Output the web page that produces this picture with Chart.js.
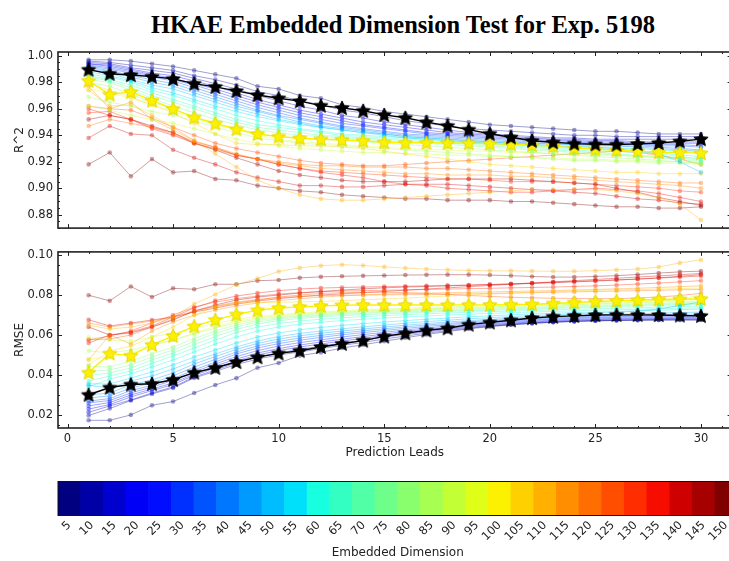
<!DOCTYPE html>
<html>
<head>
<meta charset="utf-8">
<script src="https://cdn.jsdelivr.net/npm/chart.js@4.4.0/dist/chart.umd.min.js"></script>
<style>
  html, body { margin: 0; padding: 0; background: #fff; }
  body { width: 729px; height: 561px; overflow: hidden; position: relative; }
  .box { position: absolute; left: 0; }
  #title {
    position: absolute; left: 0; top: 11px; width: 806px;
    text-align: center; font: bold 24.5px "Liberation Serif", serif; color: #000;
  }
</style>
</head>
<body>
<div id="title">HKAE Embedded Dimension Test for Exp. 5198</div>
<div class="box" style="top:0"><canvas id="r2Chart" width="740" height="240"></canvas></div>
<div class="box" style="top:240px"><canvas id="rmseChart" width="740" height="225"></canvas></div>
<div class="box" style="top:470px"><canvas id="cbarChart" width="740" height="91"></canvas></div>
<script>
// ---- data ----
const leads = [1, 2, 3, 4, 5, 6, 7, 8, 9, 10, 11, 12, 13, 14, 15, 16, 17, 18, 19, 20, 21, 22, 23, 24, 25, 26, 27, 28, 29, 30];
const dims = [5, 10, 15, 20, 25, 30, 35, 40, 45, 50, 55, 60, 65, 70, 75, 80, 85, 90, 95, 100, 105, 110, 115, 120, 125, 130, 135, 140, 145, 150];
const starDim = 100; // drawn with yellow stars

// R^2, one row per embedded dimension (same order as dims)
const r2Rows = [
  [0.997,0.997,0.996,0.994,0.992,0.989,0.986,0.983,0.977,0.975, 0.970,0.968,0.963,0.961,0.958,0.956,0.954,0.952,0.950,0.948, 0.947,0.946,0.945,0.944,0.943,0.943,0.942,0.941,0.941,0.941],
  [0.996,0.995,0.993,0.991,0.989,0.985,0.982,0.978,0.973,0.970, 0.966,0.963,0.959,0.957,0.954,0.951,0.949,0.947,0.945,0.944, 0.943,0.942,0.941,0.940,0.940,0.939,0.939,0.939,0.939,0.939],
  [0.995,0.994,0.991,0.989,0.987,0.983,0.979,0.975,0.970,0.966, 0.962,0.959,0.955,0.953,0.950,0.948,0.946,0.944,0.942,0.941, 0.940,0.939,0.938,0.938,0.937,0.937,0.937,0.937,0.937,0.937],
  [0.994,0.993,0.990,0.987,0.985,0.981,0.977,0.972,0.967,0.963, 0.959,0.956,0.953,0.950,0.948,0.946,0.944,0.942,0.941,0.940, 0.939,0.938,0.937,0.937,0.936,0.936,0.935,0.935,0.935,0.935],
  [0.994,0.992,0.989,0.986,0.983,0.979,0.975,0.970,0.965,0.961, 0.957,0.954,0.951,0.948,0.946,0.944,0.942,0.941,0.940,0.939, 0.938,0.937,0.936,0.936,0.935,0.935,0.934,0.934,0.934,0.934],
  [0.993,0.991,0.988,0.985,0.982,0.978,0.973,0.968,0.963,0.959, 0.955,0.952,0.949,0.947,0.945,0.943,0.941,0.940,0.939,0.938, 0.937,0.936,0.935,0.935,0.934,0.934,0.933,0.933,0.933,0.932],
  [0.992,0.990,0.987,0.984,0.981,0.976,0.971,0.966,0.961,0.957, 0.953,0.950,0.947,0.945,0.943,0.941,0.940,0.939,0.938,0.937, 0.936,0.935,0.935,0.934,0.934,0.933,0.933,0.932,0.932,0.931],
  [0.991,0.989,0.985,0.982,0.979,0.974,0.969,0.964,0.959,0.955, 0.952,0.949,0.946,0.944,0.942,0.940,0.939,0.938,0.937,0.936, 0.935,0.934,0.934,0.933,0.933,0.932,0.932,0.931,0.930,0.929],
  [0.990,0.988,0.984,0.980,0.977,0.972,0.967,0.962,0.958,0.954, 0.950,0.947,0.945,0.943,0.941,0.939,0.938,0.937,0.936,0.935, 0.934,0.934,0.933,0.933,0.932,0.932,0.931,0.930,0.929,0.928],
  [0.989,0.987,0.982,0.978,0.975,0.970,0.965,0.960,0.956,0.952, 0.949,0.946,0.944,0.942,0.940,0.938,0.937,0.936,0.935,0.934, 0.933,0.933,0.932,0.931,0.931,0.930,0.928,0.926,0.920,0.912],
  [0.988,0.985,0.981,0.976,0.972,0.967,0.962,0.958,0.954,0.951, 0.948,0.946,0.944,0.942,0.941,0.939,0.938,0.937,0.936,0.935, 0.934,0.933,0.932,0.932,0.931,0.930,0.930,0.929,0.928,0.927],
  [0.986,0.984,0.980,0.974,0.970,0.965,0.960,0.955,0.951,0.948, 0.945,0.943,0.941,0.940,0.939,0.938,0.937,0.936,0.935,0.934, 0.933,0.932,0.931,0.930,0.930,0.929,0.928,0.927,0.925,0.924],
  [0.985,0.982,0.978,0.972,0.967,0.962,0.957,0.952,0.948,0.946, 0.944,0.942,0.940,0.939,0.938,0.937,0.936,0.935,0.934,0.933, 0.932,0.931,0.930,0.929,0.928,0.928,0.927,0.926,0.924,0.922],
  [0.984,0.981,0.976,0.970,0.965,0.960,0.955,0.950,0.946,0.944, 0.942,0.940,0.939,0.938,0.937,0.936,0.935,0.934,0.933,0.932, 0.931,0.930,0.929,0.928,0.927,0.926,0.925,0.924,0.923,0.921],
  [0.982,0.980,0.974,0.968,0.962,0.957,0.952,0.948,0.944,0.942, 0.940,0.939,0.938,0.937,0.936,0.935,0.934,0.933,0.932,0.931, 0.930,0.929,0.928,0.927,0.926,0.925,0.924,0.923,0.922,0.920],
  [0.980,0.977,0.971,0.965,0.960,0.954,0.949,0.945,0.941,0.939, 0.938,0.937,0.936,0.935,0.934,0.933,0.932,0.931,0.930,0.929, 0.928,0.927,0.926,0.925,0.924,0.923,0.922,0.921,0.920,0.919],
  [0.969,0.965,0.962,0.958,0.955,0.951,0.946,0.942,0.938,0.936, 0.934,0.933,0.932,0.931,0.930,0.929,0.928,0.927,0.926,0.925, 0.924,0.923,0.922,0.921,0.921,0.920,0.920,0.919,0.919,0.918],
  [0.962,0.959,0.955,0.952,0.949,0.945,0.941,0.937,0.934,0.932, 0.930,0.929,0.928,0.927,0.927,0.926,0.926,0.925,0.925,0.924, 0.924,0.923,0.923,0.922,0.922,0.921,0.921,0.920,0.920,0.919],
  [0.975,0.972,0.968,0.963,0.958,0.953,0.948,0.944,0.940,0.937, 0.935,0.934,0.933,0.932,0.931,0.930,0.929,0.929,0.928,0.928, 0.927,0.927,0.926,0.926,0.925,0.925,0.924,0.924,0.923,0.923],
  [0.9812,0.9708,0.9728,0.9663,0.9600,0.9535,0.9489,0.9446,0.9410,0.9390, 0.9378,0.9370,0.9366,0.9359,0.9347,0.9344,0.9344,0.9342,0.9340,0.9337, 0.9332,0.9325,0.9318,0.9303,0.9294,0.9287,0.9280,0.9272,0.9270,0.9265],
  [0.979,0.974,0.969,0.963,0.957,0.949,0.941,0.934,0.933,0.933, 0.932,0.932,0.931,0.930,0.928,0.926,0.924,0.922,0.920,0.918, 0.917,0.916,0.915,0.914,0.913,0.912,0.912,0.911,0.911,0.911],
  [0.974,0.962,0.963,0.955,0.946,0.936,0.926,0.916,0.906,0.900, 0.895,0.892,0.891,0.891,0.892,0.893,0.894,0.895,0.896,0.897, 0.898,0.899,0.899,0.899,0.899,0.898,0.896,0.893,0.888,0.876],
  [0.977,0.960,0.965,0.952,0.944,0.936,0.931,0.926,0.922,0.919, 0.917,0.915,0.914,0.913,0.912,0.911,0.911,0.910,0.910,0.910, 0.909,0.909,0.908,0.907,0.906,0.905,0.904,0.903,0.902,0.900],
  [0.947,0.952,0.949,0.946,0.941,0.934,0.929,0.925,0.922,0.920, 0.918,0.917,0.917,0.916,0.916,0.916,0.915,0.915,0.914,0.913, 0.912,0.911,0.910,0.909,0.908,0.907,0.906,0.905,0.904,0.904],
  [0.962,0.960,0.959,0.953,0.946,0.940,0.934,0.930,0.927,0.924, 0.921,0.919,0.918,0.917,0.917,0.918,0.919,0.920,0.921,0.922, 0.923,0.924,0.925,0.926,0.927,0.928,0.927,0.925,0.922,0.918],
  [0.957,0.958,0.952,0.946,0.942,0.935,0.931,0.925,0.922,0.918, 0.915,0.913,0.912,0.911,0.910,0.909,0.908,0.907,0.907,0.906, 0.905,0.905,0.905,0.904,0.903,0.902,0.901,0.900,0.898,0.897],
  [0.960,0.955,0.952,0.945,0.940,0.934,0.930,0.925,0.922,0.918, 0.915,0.912,0.910,0.908,0.905,0.903,0.902,0.900,0.899,0.898, 0.897,0.897,0.898,0.899,0.900,0.899,0.898,0.896,0.893,0.890],
  [0.938,0.947,0.941,0.940,0.929,0.923,0.918,0.912,0.908,0.905, 0.902,0.902,0.901,0.901,0.902,0.903,0.903,0.903,0.902,0.901, 0.900,0.899,0.898,0.897,0.896,0.894,0.892,0.891,0.889,0.888],
  [0.952,0.955,0.952,0.947,0.942,0.934,0.929,0.923,0.918,0.913, 0.910,0.908,0.906,0.905,0.905,0.905,0.906,0.907,0.907,0.907, 0.907,0.906,0.905,0.904,0.903,0.900,0.897,0.893,0.890,0.887],
  [0.918,0.927,0.909,0.922,0.912,0.913,0.907,0.906,0.902,0.900, 0.898,0.897,0.895,0.894,0.893,0.892,0.892,0.891,0.891,0.891, 0.890,0.890,0.889,0.888,0.887,0.886,0.886,0.885,0.885,0.886]
];

// RMSE, one row per embedded dimension (same order as dims)
const rmseRows = [
  [0.0173,0.0173,0.0200,0.0248,0.0267,0.0310,0.0350,0.0384,0.0436,0.0460, 0.0497,0.0513,0.0535,0.0551,0.0569,0.0586,0.0603,0.0617,0.0631,0.0642, 0.0651,0.0658,0.0664,0.0668,0.0671,0.0673,0.0674,0.0675,0.0675,0.0675],
  [0.0197,0.0232,0.0272,0.0305,0.0335,0.0385,0.0418,0.0452,0.0480,0.0500, 0.0515,0.0532,0.0548,0.0563,0.0580,0.0595,0.0609,0.0622,0.0634,0.0644, 0.0652,0.0659,0.0664,0.0668,0.0671,0.0673,0.0674,0.0675,0.0676,0.0676],
  [0.0213,0.0245,0.0275,0.0310,0.0340,0.0390,0.0425,0.0460,0.0490,0.0510, 0.0528,0.0544,0.0560,0.0574,0.0590,0.0603,0.0616,0.0628,0.0638,0.0647, 0.0655,0.0661,0.0666,0.0670,0.0673,0.0675,0.0677,0.0678,0.0679,0.0679],
  [0.0229,0.0252,0.0290,0.0322,0.0352,0.0398,0.0435,0.0470,0.0500,0.0522, 0.0540,0.0555,0.0570,0.0583,0.0597,0.0610,0.0622,0.0633,0.0643,0.0651, 0.0659,0.0665,0.0670,0.0674,0.0677,0.0679,0.0681,0.0682,0.0683,0.0683],
  [0.0245,0.0262,0.0300,0.0330,0.0360,0.0405,0.0445,0.0480,0.0510,0.0532, 0.0550,0.0565,0.0579,0.0592,0.0605,0.0617,0.0628,0.0638,0.0648,0.0656, 0.0663,0.0669,0.0674,0.0678,0.0681,0.0683,0.0685,0.0686,0.0687,0.0688],
  [0.0260,0.0272,0.0310,0.0340,0.0372,0.0415,0.0455,0.0492,0.0522,0.0545, 0.0562,0.0576,0.0590,0.0602,0.0614,0.0625,0.0635,0.0645,0.0654,0.0662, 0.0668,0.0674,0.0679,0.0683,0.0686,0.0688,0.0690,0.0691,0.0692,0.0693],
  [0.0269,0.0282,0.0322,0.0348,0.0382,0.0425,0.0465,0.0505,0.0535,0.0557, 0.0574,0.0588,0.0601,0.0612,0.0623,0.0633,0.0643,0.0652,0.0660,0.0667, 0.0673,0.0678,0.0683,0.0687,0.0690,0.0692,0.0694,0.0696,0.0697,0.0698],
  [0.0285,0.0295,0.0335,0.0360,0.0395,0.0440,0.0478,0.0515,0.0546,0.0568, 0.0585,0.0598,0.0610,0.0621,0.0631,0.0641,0.0650,0.0658,0.0666,0.0672, 0.0678,0.0683,0.0687,0.0691,0.0694,0.0697,0.0699,0.0701,0.0703,0.0705],
  [0.0300,0.0310,0.0350,0.0375,0.0410,0.0455,0.0492,0.0528,0.0558,0.0580, 0.0596,0.0609,0.0620,0.0630,0.0640,0.0649,0.0657,0.0665,0.0672,0.0678, 0.0684,0.0689,0.0693,0.0697,0.0700,0.0703,0.0706,0.0709,0.0712,0.0715],
  [0.0348,0.0335,0.0370,0.0395,0.0430,0.0470,0.0505,0.0540,0.0570,0.0592, 0.0608,0.0620,0.0631,0.0641,0.0650,0.0659,0.0667,0.0674,0.0681,0.0687, 0.0692,0.0697,0.0701,0.0705,0.0709,0.0713,0.0720,0.0730,0.0748,0.0765],
  [0.0356,0.0355,0.0385,0.0415,0.0450,0.0490,0.0525,0.0560,0.0590,0.0610, 0.0626,0.0638,0.0648,0.0657,0.0665,0.0672,0.0679,0.0685,0.0691,0.0696, 0.0701,0.0705,0.0709,0.0712,0.0715,0.0718,0.0721,0.0724,0.0727,0.0730],
  [0.0340,0.0380,0.0405,0.0440,0.0475,0.0515,0.0555,0.0590,0.0620,0.0640, 0.0654,0.0664,0.0672,0.0679,0.0685,0.0690,0.0695,0.0700,0.0704,0.0708, 0.0712,0.0715,0.0718,0.0721,0.0724,0.0726,0.0729,0.0731,0.0734,0.0737],
  [0.0370,0.0395,0.0420,0.0458,0.0495,0.0535,0.0575,0.0612,0.0640,0.0658, 0.0670,0.0679,0.0686,0.0692,0.0697,0.0702,0.0706,0.0710,0.0714,0.0717, 0.0720,0.0723,0.0726,0.0729,0.0731,0.0734,0.0736,0.0739,0.0742,0.0745],
  [0.0397,0.0410,0.0435,0.0475,0.0510,0.0552,0.0592,0.0628,0.0655,0.0672, 0.0683,0.0691,0.0697,0.0702,0.0706,0.0710,0.0714,0.0718,0.0721,0.0724, 0.0727,0.0730,0.0733,0.0736,0.0739,0.0742,0.0745,0.0748,0.0751,0.0754],
  [0.0420,0.0425,0.0450,0.0490,0.0525,0.0568,0.0608,0.0640,0.0665,0.0680, 0.0690,0.0697,0.0703,0.0708,0.0712,0.0716,0.0720,0.0723,0.0726,0.0729, 0.0732,0.0735,0.0738,0.0741,0.0744,0.0747,0.0750,0.0753,0.0756,0.0759],
  [0.0444,0.0440,0.0470,0.0505,0.0540,0.0582,0.0620,0.0650,0.0673,0.0686, 0.0695,0.0702,0.0708,0.0713,0.0717,0.0721,0.0725,0.0728,0.0731,0.0734, 0.0737,0.0740,0.0743,0.0746,0.0749,0.0752,0.0755,0.0758,0.0761,0.0764],
  [0.0521,0.0510,0.0525,0.0550,0.0575,0.0605,0.0635,0.0660,0.0680,0.0692, 0.0700,0.0707,0.0713,0.0718,0.0722,0.0726,0.0730,0.0734,0.0737,0.0740, 0.0743,0.0746,0.0749,0.0752,0.0755,0.0758,0.0761,0.0764,0.0767,0.0770],
  [0.0588,0.0575,0.0570,0.0590,0.0610,0.0635,0.0658,0.0678,0.0692,0.0702, 0.0710,0.0716,0.0721,0.0726,0.0730,0.0734,0.0738,0.0741,0.0744,0.0747, 0.0750,0.0753,0.0756,0.0759,0.0762,0.0765,0.0768,0.0771,0.0774,0.0777],
  [0.0480,0.0490,0.0510,0.0545,0.0575,0.0610,0.0642,0.0668,0.0686,0.0697, 0.0705,0.0711,0.0716,0.0721,0.0725,0.0729,0.0733,0.0736,0.0739,0.0742, 0.0745,0.0748,0.0751,0.0754,0.0757,0.0760,0.0764,0.0768,0.0780,0.0800],
  [0.0412,0.0508,0.0497,0.0551,0.0596,0.0644,0.0676,0.0703,0.0724,0.0735, 0.0741,0.0746,0.0749,0.0751,0.0750,0.0750,0.0750,0.0750,0.0751,0.0751, 0.0752,0.0754,0.0758,0.0763,0.0768,0.0771,0.0774,0.0778,0.0779,0.0781],
  [0.0450,0.0520,0.0545,0.0590,0.0640,0.0700,0.0740,0.0760,0.0762,0.0764, 0.0766,0.0768,0.0772,0.0776,0.0780,0.0785,0.0790,0.0795,0.0800,0.0805, 0.0810,0.0815,0.0818,0.0821,0.0824,0.0826,0.0828,0.0830,0.0832,0.0835],
  [0.0649,0.0630,0.0640,0.0660,0.0690,0.0755,0.0803,0.0852,0.0883,0.0918, 0.0936,0.0947,0.0952,0.0948,0.0941,0.0935,0.0930,0.0926,0.0923,0.0921, 0.0921,0.0920,0.0919,0.0919,0.0922,0.0926,0.0930,0.0940,0.0961,0.0976],
  [0.0476,0.0600,0.0555,0.0620,0.0665,0.0700,0.0725,0.0745,0.0760,0.0772, 0.0782,0.0790,0.0796,0.0801,0.0805,0.0808,0.0810,0.0812,0.0814,0.0816, 0.0818,0.0820,0.0822,0.0825,0.0828,0.0831,0.0834,0.0838,0.0842,0.0846],
  [0.0660,0.0640,0.0655,0.0670,0.0690,0.0720,0.0745,0.0765,0.0778,0.0787, 0.0793,0.0797,0.0799,0.0800,0.0801,0.0802,0.0803,0.0804,0.0806,0.0808, 0.0810,0.0812,0.0814,0.0816,0.0818,0.0820,0.0822,0.0824,0.0826,0.0828],
  [0.0576,0.0580,0.0600,0.0640,0.0680,0.0720,0.0742,0.0760,0.0775,0.0790, 0.0800,0.0808,0.0812,0.0814,0.0814,0.0812,0.0808,0.0803,0.0798,0.0793, 0.0789,0.0786,0.0784,0.0783,0.0782,0.0782,0.0785,0.0790,0.0798,0.0808],
  [0.0576,0.0595,0.0620,0.0660,0.0700,0.0740,0.0765,0.0782,0.0795,0.0805, 0.0812,0.0817,0.0820,0.0822,0.0824,0.0826,0.0828,0.0830,0.0832,0.0834, 0.0836,0.0838,0.0840,0.0843,0.0846,0.0850,0.0855,0.0860,0.0866,0.0872],
  [0.0560,0.0600,0.0615,0.0645,0.0690,0.0735,0.0772,0.0795,0.0810,0.0822, 0.0830,0.0835,0.0838,0.0840,0.0842,0.0844,0.0846,0.0848,0.0850,0.0853, 0.0856,0.0860,0.0864,0.0868,0.0872,0.0876,0.0880,0.0885,0.0890,0.0895],
  [0.0676,0.0645,0.0660,0.0675,0.0690,0.0715,0.0735,0.0755,0.0770,0.0782, 0.0792,0.0800,0.0806,0.0812,0.0818,0.0824,0.0830,0.0836,0.0842,0.0848, 0.0854,0.0860,0.0866,0.0872,0.0878,0.0884,0.0890,0.0896,0.0902,0.0908],
  [0.0640,0.0600,0.0610,0.0640,0.0675,0.0720,0.0750,0.0775,0.0790,0.0800, 0.0810,0.0818,0.0825,0.0831,0.0836,0.0840,0.0843,0.0846,0.0849,0.0852, 0.0855,0.0858,0.0862,0.0866,0.0870,0.0875,0.0880,0.0886,0.0894,0.0902],
  [0.0799,0.0771,0.0843,0.0790,0.0834,0.0829,0.0854,0.0854,0.0872,0.0875, 0.0886,0.0891,0.0894,0.0896,0.0898,0.0900,0.0901,0.0902,0.0902,0.0900, 0.0897,0.0893,0.0890,0.0890,0.0893,0.0897,0.0903,0.0910,0.0916,0.0920]
];

// black star line
const bestR2 = [0.9896,0.9865,0.9855,0.9843,0.9826,0.9790,0.9766,0.9735,0.9704,0.9680, 0.9658,0.9624,0.9607,0.9585,0.9554,0.9532,0.9499,0.9472,0.9443,0.9412, 0.9385,0.9359,0.9347,0.9337,0.9332,0.9330,0.9335,0.9342,0.9354,0.9371];
const bestRmse = [0.0301,0.0337,0.0352,0.0356,0.0376,0.0412,0.0436,0.0465,0.0489,0.0508, 0.0521,0.0540,0.0556,0.0572,0.0593,0.0609,0.0623,0.0634,0.0652,0.0663, 0.0674,0.0685,0.0692,0.0696,0.0700,0.0701,0.0701,0.0700,0.0698,0.0696];

// ---- styling helpers ----
Chart.defaults.font.family = "'DejaVu Sans', sans-serif";
Chart.defaults.color = '#222';

// matplotlib "jet"
function interp(xs, ys, t) {
  for (let i = 1; i < xs.length; i++) {
    if (t <= xs[i]) return ys[i - 1] + (ys[i] - ys[i - 1]) * (t - xs[i - 1]) / (xs[i] - xs[i - 1]);
  }
  return ys[ys.length - 1];
}
function jet(t, a) {
  const r = interp([0, 0.35, 0.66, 0.89, 1], [0, 0, 1, 1, 0.5], t);
  const g = interp([0, 0.125, 0.375, 0.64, 0.91, 1], [0, 0, 1, 1, 0, 0], t);
  const b = interp([0, 0.11, 0.34, 0.65, 1], [0.5, 1, 1, 0, 0], t);
  return `rgba(${Math.round(r * 255)},${Math.round(g * 255)},${Math.round(b * 255)},${a})`;
}

function starMarker(fill, edge, r) {
  const c = document.createElement('canvas');
  const s = Math.ceil(r * 2 + 3);
  c.width = s; c.height = s;
  const g = c.getContext('2d');
  g.translate(s / 2, s / 2 + 0.5);
  g.beginPath();
  for (let k = 0; k < 10; k++) {
    const rr = k % 2 ? r * 0.45 : r;
    const ang = -Math.PI / 2 + k * Math.PI / 5;
    g.lineTo(rr * Math.cos(ang), rr * Math.sin(ang));
  }
  g.closePath();
  g.fillStyle = fill; g.fill();
  g.strokeStyle = edge; g.lineWidth = 1; g.stroke();
  return c;
}
const blackStar = starMarker('#000', '#000', 7.5);
const yellowStar = starMarker(jet(19 / 29, 1), '#e6d600', 7.5);

// frame + inward ticks (matplotlib look)
const frameTicks = {
  id: 'frameTicks',
  afterDatasetsDraw(chart, args, opts) {
    const { ctx, chartArea: a } = chart;
    ctx.save();
    ctx.strokeStyle = '#222';
    ctx.lineWidth = 1;
    ctx.beginPath();
    if (opts.x) {
      const sx = chart.scales.x;
      [[opts.x.major, 4], [opts.x.minor, 2]].forEach(([step, len]) => {
        for (let v = Math.ceil(sx.min / step) * step; v <= sx.max; v += step) {
          const px = Math.round(sx.getPixelForValue(v)) + 0.5;
          ctx.moveTo(px, a.bottom); ctx.lineTo(px, a.bottom - len);
          ctx.moveTo(px, a.top); ctx.lineTo(px, a.top + len);
        }
      });
    }
    if (opts.y) {
      const sy = chart.scales.y;
      [[opts.y.major, 4], [opts.y.minor, 2]].forEach(([step, len]) => {
        for (let v = Math.ceil(sy.min / step - 1e-6) * step; v <= sy.max + 1e-9; v += step) {
          const py = Math.round(sy.getPixelForValue(v)) + 0.5;
          ctx.moveTo(a.left, py); ctx.lineTo(a.left + len, py);
          ctx.moveTo(a.right, py); ctx.lineTo(a.right - len, py);
        }
      });
    }
    ctx.stroke();
    ctx.lineWidth = opts.frame || 1.5;
    ctx.strokeStyle = opts.frameColor || '#222';
    ctx.strokeRect(a.left, a.top, a.right - a.left, a.bottom - a.top);
    ctx.restore();
  }
};

function buildSets(rows, best) {
  const pts = arr => leads.map((x, i) => ({ x: x, y: arr[i] }));
  const sets = [{
    label: 'black stars', data: pts(best),
    borderColor: '#000', backgroundColor: '#000', borderWidth: 1.4,
    pointStyle: blackStar, pointRadius: 7
  }];
  const k = dims.indexOf(starDim);
  sets.push({
    label: 'dim ' + starDim, data: pts(rows[k]),
    borderColor: jet(k / (dims.length - 1), 1), backgroundColor: jet(k / (dims.length - 1), 1),
    borderWidth: 1.4, pointStyle: yellowStar, pointRadius: 7
  });
  dims.forEach((d, i) => {
    if (d === starDim) return;
    const col = jet(i / (dims.length - 1), 0.38);
    sets.push({
      label: 'dim ' + d, data: pts(rows[i]),
      borderColor: col, backgroundColor: col, borderWidth: 1,
      pointRadius: 2.3, pointBorderWidth: 0
    });
  });
  return sets;
}

const tickFont = { size: 11.5 };
const labelFont = { size: 12 };

function panel(id, rows, best, yMin, yMax, yTitle, showX, pad) {
  return new Chart(document.getElementById(id), {
    type: 'line',
    data: { datasets: buildSets(rows, best) },
    plugins: [frameTicks],
    options: {
      responsive: false, animation: false, events: [],
      layout: { padding: pad },
      plugins: {
        legend: { display: false }, tooltip: { enabled: false },
        frameTicks: { x: { major: 5, minor: 1 }, y: { major: 0.02, minor: 0.005 }, frame: 1.6 }
      },
      scales: {
        x: {
          type: 'linear', min: -0.45, max: 31.45,
          grid: { display: false, drawTicks: false }, border: { display: false },
          ticks: { display: showX, stepSize: 5, includeBounds: false, padding: 4, font: tickFont, color: '#222' },
          title: { display: showX, text: 'Prediction Leads', font: labelFont, color: '#222', padding: { top: 0, bottom: 5 } },
          afterFit: s => { s.height = showX ? 37 : 0; }
        },
        y: {
          min: yMin, max: yMax,
          grid: { display: false, drawTicks: false }, border: { display: false },
          ticks: { stepSize: 0.02, includeBounds: false, padding: 5, font: tickFont, color: '#222',
                   callback: v => v.toFixed(2) },
          title: { display: true, text: yTitle, font: labelFont, color: '#222', padding: { top: 13, bottom: 0 } },
          afterFit: s => { s.width = 58; }
        }
      }
    }
  });
}

panel('r2Chart', r2Rows, bestR2, 0.8699, 1.0029, 'R^2', false, { top: 52, right: 2.5, bottom: 4, left: 0 });
panel('rmseChart', rmseRows, bestRmse, 0.01345, 0.1016, 'RMSE', true, { top: 4, right: 2.5, bottom: 0, left: 0 });

// colour bar
new Chart(document.getElementById('cbarChart'), {
  type: 'bar',
  data: {
    labels: dims.map(String),
    datasets: [{
      data: dims.map(() => 1),
      backgroundColor: dims.map((d, i) => jet(i / (dims.length - 1), 1)),
      borderWidth: 0, barPercentage: 1, categoryPercentage: 1
    }]
  },
  plugins: [frameTicks],
  options: {
    responsive: false, animation: false, events: [],
    layout: { padding: { left: 58, top: 11.5, right: 2.5, bottom: 0 } },
    plugins: { legend: { display: false }, tooltip: { enabled: false }, frameTicks: { frame: 1, frameColor: '#111' } },
    scales: {
      x: {
        grid: { display: false, drawTicks: false }, border: { display: false },
        ticks: { autoSkip: false, minRotation: 45, maxRotation: 45, padding: 3, font: tickFont, color: '#222' },
        title: { display: true, text: 'Embedded Dimension', font: labelFont, color: '#222', padding: { top: 0, bottom: 1 } },
        afterFit: s => { s.height = 45.5; }
      },
      y: { display: false, min: 0, max: 1 }
    }
  }
});
</script>
</body>
</html>
